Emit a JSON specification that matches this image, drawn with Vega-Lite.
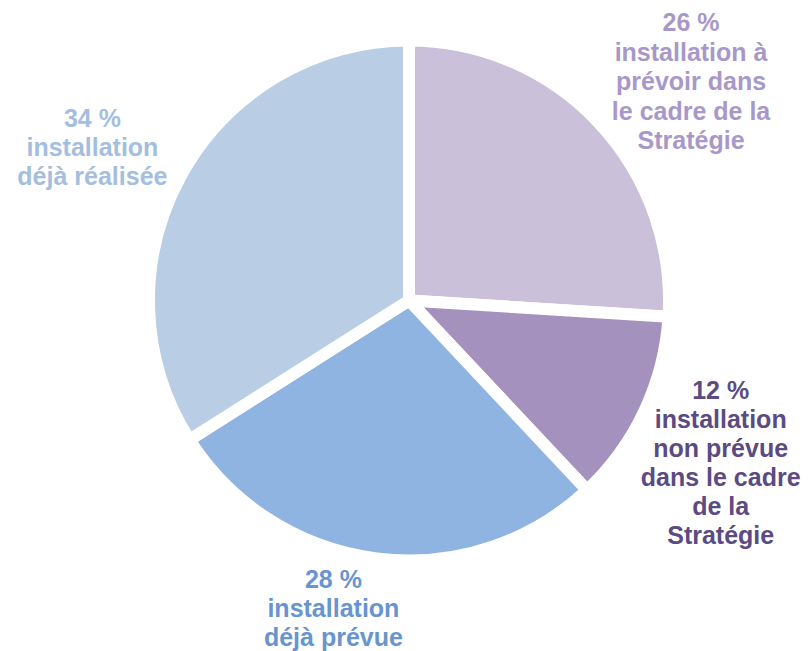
{
  "$schema": "https://vega.github.io/schema/vega-lite/v6.json",
  "width": 798,
  "height": 601,
  "autosize": {"type": "none"},
  "padding": {"left": 10, "top": 0, "right": 0, "bottom": 50},
  "background": "white",
  "view": {"stroke": null},
  "data": {
    "values": [
      {"k": "a", "order": 1, "pct": 26, "label": "26 %\ninstallation à\nprévoir dans\nle cadre de la\nStratégie"},
      {"k": "b", "order": 2, "pct": 12, "label": "12 %\ninstallation\nnon prévue\ndans le cadre\nde la\nStratégie"},
      {"k": "c", "order": 3, "pct": 28, "label": "28 %\ninstallation\ndéjà prévue"},
      {"k": "d", "order": 4, "pct": 34, "label": "34 %\ninstallation\ndéjà réalisée"}
    ]
  },
  "encoding": {
    "theta": {"field": "pct", "type": "quantitative", "stack": true},
    "order": {"field": "order", "type": "quantitative"}
  },
  "layer": [
    {
      "mark": {"type": "arc", "outerRadius": 260, "stroke": "white", "strokeWidth": 12},
      "encoding": {
        "color": {
          "field": "k",
          "type": "nominal",
          "scale": {"domain": ["a", "b", "c", "d"], "range": ["#CAC0DA", "#A491BD", "#90B4E2", "#B9CDE4"]},
          "legend": null
        }
      }
    },
    {
      "mark": {"type": "text", "radius": 354, "dx": 24, "dy": -35, "align": "center", "baseline": "middle", "lineBreak": "\n", "lineHeight": 29.5, "font": "Liberation Sans", "fontWeight": "bold", "fontSize": 25, "color": "#A898C9"},
      "encoding": {"text": {"condition": {"test": "datum.k === 'a'", "field": "label"}, "value": ""}}
    },
    {
      "mark": {"type": "text", "radius": 350, "dx": -5, "dy": -59, "align": "center", "baseline": "middle", "lineBreak": "\n", "lineHeight": 29, "font": "Liberation Sans", "fontWeight": "bold", "fontSize": 25, "color": "#5C4B82"},
      "encoding": {"text": {"condition": {"test": "datum.k === 'b'", "field": "label"}, "value": ""}}
    },
    {
      "mark": {"type": "text", "radius": 316, "dx": -36, "dy": -34, "align": "center", "baseline": "middle", "lineBreak": "\n", "lineHeight": 29, "font": "Liberation Sans", "fontWeight": "bold", "fontSize": 25, "color": "#6894CF"},
      "encoding": {"text": {"condition": {"test": "datum.k === 'c'", "field": "label"}, "value": ""}}
    },
    {
      "mark": {"type": "text", "radius": 351, "dx": -9, "dy": -12, "align": "center", "baseline": "middle", "lineBreak": "\n", "lineHeight": 29, "font": "Liberation Sans", "fontWeight": "bold", "fontSize": 25, "color": "#A4BEE0"},
      "encoding": {"text": {"condition": {"test": "datum.k === 'd'", "field": "label"}, "value": ""}}
    }
  ]
}
